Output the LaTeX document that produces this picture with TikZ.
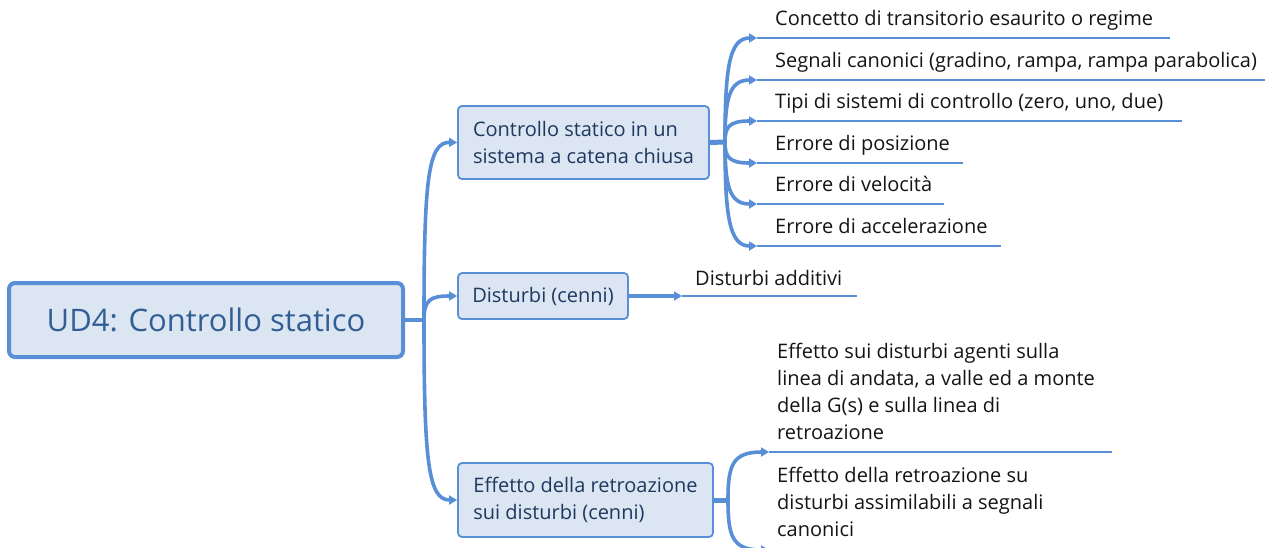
\documentclass[tikz,border=0pt]{standalone}
\usepackage{fontspec}
\setmainfont{Open Sans}
\usetikzlibrary{arrows.meta}
\definecolor{lineblue}{RGB}{88,143,214}
\definecolor{boxfill}{RGB}{220,230,242}
\definecolor{roottext}{RGB}{50,94,150}
\definecolor{childtext}{RGB}{31,56,96}
\definecolor{leaftext}{RGB}{20,20,20}
\begin{document}
\begin{tikzpicture}[x=1pt,y=-1pt,
  rootbox/.style={draw=lineblue, fill=boxfill, line width=4pt, rounded corners=6pt,
    minimum width=394pt, minimum height=74pt, text=roottext,
    font=\fontsize{31}{36}\selectfont, inner sep=0pt},
  childbox/.style={draw=lineblue, fill=boxfill, line width=1.8pt, rounded corners=4pt,
    text=childtext, font=\fontsize{20}{27}\selectfont, align=left, inner xsep=10pt, inner ysep=0pt},
  leaf/.style={anchor=south west, inner xsep=18pt, inner ysep=8pt,
    text=leaftext, font=\fontsize{20}{27}\selectfont, align=left,
    append after command={(\tikzlastnode.south west) edge[uline] ++(#1,0)}},
  uline/.style={draw=lineblue, line width=2.5pt},
  conn/.style={draw=lineblue, line width=3.6pt, -{Triangle[length=8pt,width=9pt]}},
  trunk/.style={draw=lineblue, line width=4pt},
  stub/.style={draw=lineblue, line width=5pt},
]
\useasboundingbox (0,0) rectangle (1279,547);

% root
\node[rootbox] (root) at (206,320) {UD4: Controllo statico};

% children
\node[childbox, minimum width=251pt, minimum height=73pt] (c1) at (583.5,142.5)
  {Controllo statico in un\\sistema a catena chiusa};
\node[childbox, minimum width=170pt, minimum height=46pt] (c2) at (543,296)
  {Disturbi (cenni)};
\node[childbox, minimum width=255pt, minimum height=74pt] (c3) at (585.5,500)
  {Effetto della retroazione\\sui disturbi (cenni)};

% leaves of c1
\node[leaf=413, text depth=4pt] (l1) at (757,38) {Concetto di transitorio esaurito o regime};
\node[leaf=508, text depth=4pt] (l2) at (757,80) {Segnali canonici (gradino, rampa, rampa parabolica)};
\node[leaf=425, text depth=4pt] (l3) at (757,121) {Tipi di sistemi di controllo (zero, uno, due)};
\node[leaf=206, text depth=4pt] (l4) at (757,163) {Errore di posizione};
\node[leaf=187, text depth=4pt] (l5) at (757,204) {Errore di velocità};
\node[leaf=244, text depth=4pt] (l6) at (757,246) {Errore di accelerazione};

% leaf of c2
\node[leaf=175, text depth=4pt, inner xsep=13pt, inner ysep=6pt] (d1) at (682,296) {Disturbi additivi};

% leaves of c3
\node[leaf=343, inner xsep=8pt, inner ysep=12pt] (e1) at (769,452)
  {Effetto sui disturbi agenti sulla\\linea di andata, a valle ed a monte\\della G(s) e sulla linea di\\retroazione};
\node[leaf=343, inner xsep=8pt, inner ysep=13pt] (e2) at (769,550)
  {Effetto della retroazione su\\disturbi assimilabili a segnali\\canonici};

% junctions
\coordinate (j0) at (424,320);
\coordinate (j1) at (725,142);
\coordinate (j3) at (728,500);

% root to children
\draw[trunk] (root.east) -- (j0);
\draw[conn] (j0) .. controls (424,180) and (428,142) .. (c1.west);
\draw[conn] (j0) .. controls (424,300) and (430,296) .. (c2.west);
\draw[conn] (j0) .. controls (424,460) and (428,500) .. (c3.west);

% c1 to leaves
\draw[stub] (c1.east) -- (j1);
\draw[conn] (j1) .. controls (725,69) and (729,38) .. (l1.south west);
\draw[conn] (j1) .. controls (725,99) and (729,80) .. (l2.south west);
\draw[conn] (j1) .. controls (725,127) and (729,121) .. (l3.south west);
\draw[conn] (j1) .. controls (725,157) and (729,163) .. (l4.south west);
\draw[conn] (j1) .. controls (725,185) and (729,204) .. (l5.south west);
\draw[conn] (j1) .. controls (725,215) and (729,246) .. (l6.south west);

% c2 to leaf
\draw[conn] (c2.east) -- (d1.south west);

% c3 to leaves
\draw[stub] (c3.east) -- (j3);
\draw[conn] (j3) .. controls (728,466) and (732,452) .. (e1.south west);
\draw[conn] (j3) .. controls (728,536) and (732,550) .. (e2.south west);
\end{tikzpicture}
\end{document}
